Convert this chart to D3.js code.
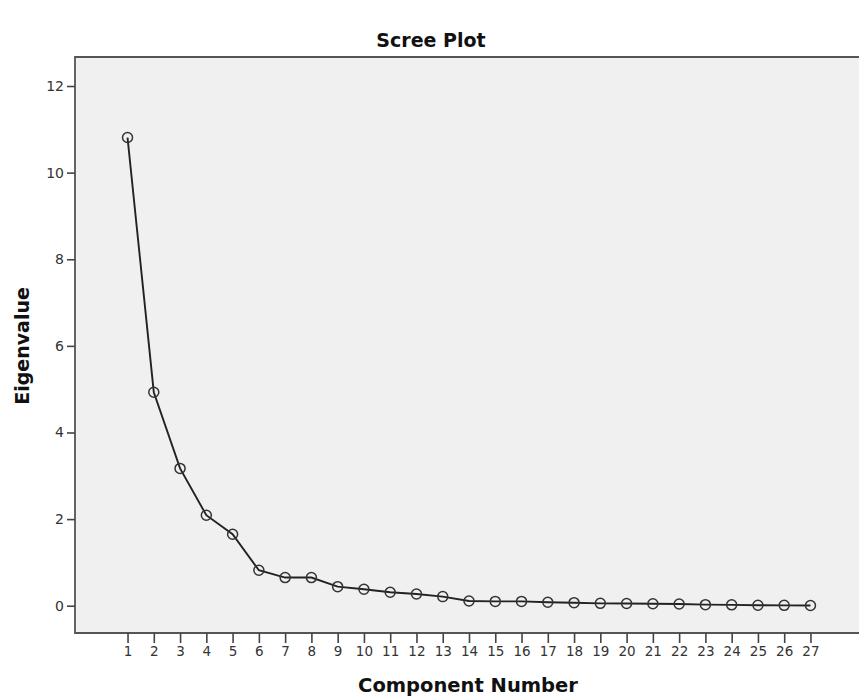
<!DOCTYPE html>
<html><head><meta charset="utf-8">
<script src="https://cdn.jsdelivr.net/npm/d3@7"></script>
<style>body{margin:0;background:#fff;}svg{display:block;}</style>
</head><body>
<svg id="c" width="859" height="697"></svg>
<script>
const components = d3.range(1, 28);
const eigenvalues = [10.81, 4.93, 3.17, 2.09, 1.65, 0.82, 0.65, 0.65, 0.44, 0.38, 0.31, 0.27, 0.21, 0.11, 0.10, 0.10, 0.08, 0.07, 0.055, 0.05, 0.045, 0.04, 0.025, 0.02, 0.01, 0.008, 0.005];
const yTicks = [0, 2, 4, 6, 8, 10, 12];
const xTicks = components;
const title = "Scree Plot";
const xLabel = "Component Number";
const yLabel = "Eigenvalue";

const svg = d3.select("#c");
const L = 75, T = 57, R = 863, B = 633;
const x = d3.scaleLinear().domain([-1, 29]).range([L, R]);
const y = d3.scaleLinear().domain([-0.63, 12.67]).range([B, T]);
const font = "'DejaVu Sans', sans-serif";

svg.append("rect").attr("x", L).attr("y", T).attr("width", R - L + 10).attr("height", B - T)
  .attr("fill", "#f0f0f0");
svg.append("path").attr("d", `M${R+10},${T}H${L}V${B}H${R+10}`)
  .attr("fill", "none").attr("stroke", "#555").attr("stroke-width", 1.8);

const ya = svg.append("g").attr("transform", `translate(${L},0)`)
  .call(d3.axisLeft(y).tickValues(yTicks).tickSize(8).tickSizeOuter(0).tickFormat(d3.format("d")));
ya.select(".domain").remove();
ya.selectAll("line").attr("stroke", "#444").attr("stroke-width", 1.6);
ya.selectAll("text").attr("font-family", font).attr("font-size", 14).attr("fill", "#333").attr("x", -11);

const xa = svg.append("g").attr("transform", `translate(0,${B})`)
  .call(d3.axisBottom(x).tickValues(xTicks).tickSize(10).tickSizeOuter(0).tickFormat(d3.format("d")));
xa.select(".domain").remove();
xa.selectAll("line").attr("stroke", "#444").attr("stroke-width", 1.6);
xa.selectAll("text").attr("font-family", font).attr("font-size", 13.5).attr("fill", "#333").attr("y", 13);

const line = d3.line().x((d, i) => x(components[i])).y(d => y(d));
svg.append("path").datum(eigenvalues).attr("d", line)
  .attr("fill", "none").attr("stroke", "#222").attr("stroke-width", 1.9);
svg.append("g").selectAll("circle").data(eigenvalues).join("circle")
  .attr("cx", (d, i) => x(components[i])).attr("cy", d => y(d)).attr("r", 5)
  .attr("fill", "none").attr("stroke", "#333").attr("stroke-width", 1.5);

svg.append("text").attr("x", 431).attr("y", 47).attr("text-anchor", "middle")
  .attr("font-family", font).attr("font-weight", "bold").attr("font-size", 19).attr("fill", "#111").text(title);
svg.append("text").attr("x", 468).attr("y", 692).attr("text-anchor", "middle")
  .attr("font-family", font).attr("font-weight", "bold").attr("font-size", 19.5).attr("fill", "#111").text(xLabel);
svg.append("text").attr("transform", "translate(29,346) rotate(-90)").attr("text-anchor", "middle")
  .attr("font-family", font).attr("font-weight", "bold").attr("font-size", 19).attr("fill", "#111").text(yLabel);
</script>
</body></html>
